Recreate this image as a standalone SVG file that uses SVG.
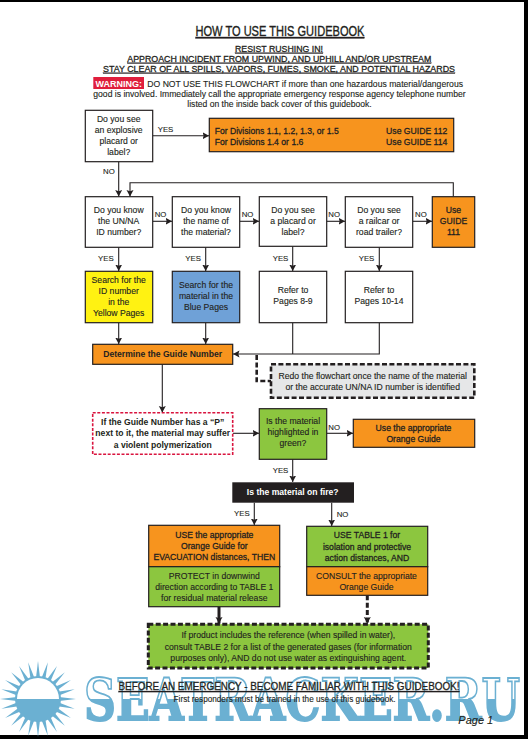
<svg xmlns="http://www.w3.org/2000/svg" width="528" height="739" viewBox="0 0 528 739">
<style>
text{font-family:"Liberation Sans",Arial,sans-serif;font-size:8.65px;fill:#231f20;stroke:#231f20;stroke-width:.12px;text-anchor:middle}
.b{font-weight:bold;font-size:8.6px;stroke:none}
.s{font-size:7.8px;text-anchor:start}
.u{text-decoration:underline;stroke-width:.28px}
.l{text-anchor:start}
.e{text-anchor:end}
.m{stroke-width:.28px}
.box{stroke:#231f20;stroke-width:1.2;fill:#fff}
.o{fill:#f7941e}.g{fill:#8cc63f}.y{fill:#fff212}.bl{fill:#6fa1d7}
.c{fill:none;stroke:#231f20;stroke-width:1.1}
.a{marker-end:url(#ah)}
.d{fill:none;stroke:#231f20;stroke-width:2.6;stroke-dasharray:5 2.4}
.t{fill:none;stroke:#231f20;stroke-width:3}
.ray{fill:#6bb0d2}
</style>
<defs>
<marker id="ah" markerUnits="userSpaceOnUse" markerWidth="8" markerHeight="8" refX="6.5" refY="3.5" orient="auto"><path d="M0 0L6.5 3.5L0 7L1.2 3.5Z" fill="#231f20"/></marker>
<linearGradient id="wm" gradientUnits="userSpaceOnUse" x1="0" y1="-14.6" x2="0" y2="-13.6"><stop offset="0" stop-color="#fff"/><stop offset="0" stop-color="#6bb0d2"/></linearGradient>
<polygon id="ray" class="ray" points="33.5,699 38,661 42.5,699"/>
</defs>
<g id="frame"><rect x="0" y="0" width="528" height="2" fill="#000"/><rect x="524" y="0" width="4" height="739" fill="#000"/><rect x="0" y="735" width="528" height="4" fill="#000"/></g>
<g id="watermark">
<g>
<use href="#ray"/><use href="#ray" transform="rotate(15 38 699)"/><use href="#ray" transform="rotate(30 38 699)"/><use href="#ray" transform="rotate(45 38 699)"/><use href="#ray" transform="rotate(60 38 699)"/><use href="#ray" transform="rotate(75 38 699)"/><use href="#ray" transform="rotate(90 38 699)"/><use href="#ray" transform="rotate(105 38 699)"/><use href="#ray" transform="rotate(120 38 699)"/><use href="#ray" transform="rotate(135 38 699)"/><use href="#ray" transform="rotate(150 38 699)"/><use href="#ray" transform="rotate(165 38 699)"/><use href="#ray" transform="rotate(180 38 699)"/><use href="#ray" transform="rotate(195 38 699)"/><use href="#ray" transform="rotate(210 38 699)"/><use href="#ray" transform="rotate(225 38 699)"/><use href="#ray" transform="rotate(240 38 699)"/><use href="#ray" transform="rotate(255 38 699)"/><use href="#ray" transform="rotate(270 38 699)"/><use href="#ray" transform="rotate(285 38 699)"/><use href="#ray" transform="rotate(300 38 699)"/><use href="#ray" transform="rotate(315 38 699)"/><use href="#ray" transform="rotate(330 38 699)"/><use href="#ray" transform="rotate(345 38 699)"/>
<circle cx="38" cy="699" r="23" class="ray"/>
<path d="M17 699A21 21 0 0 1 59 699Z" fill="#fff"/>
</g>
<text transform="translate(84 720) scale(1.09 1.44)" x="0" y="0" textLength="400" lengthAdjust="spacingAndGlyphs" style="font-family:'DejaVu Serif',serif;font-weight:bold;font-size:40px;text-anchor:start;fill:url(#wm);stroke:#6bb0d2;stroke-width:1.3px">SEATRACKER.RU</text>
</g>
<g id="header">
<text x="280" y="36" class="u" style="font-size:14px;stroke-width:.35px" textLength="169" lengthAdjust="spacingAndGlyphs">HOW TO USE THIS GUIDEBOOK</text>
<text x="279" y="51.7" class="u" textLength="88" lengthAdjust="spacingAndGlyphs">RESIST RUSHING IN!</text>
<text x="279.3" y="61.7" class="u" textLength="304" lengthAdjust="spacingAndGlyphs">APPROACH INCIDENT FROM UPWIND, AND UPHILL AND/OR UPSTREAM</text>
<text x="279" y="71.7" class="u" textLength="352" lengthAdjust="spacingAndGlyphs">STAY CLEAR OF ALL SPILLS, VAPORS, FUMES, SMOKE, AND POTENTIAL HAZARDS</text>
<rect x="93.3" y="77" width="50.7" height="12" fill="#e01e3c"/>
<text x="118.7" y="87" class="b" style="fill:#fff;font-size:9.5px" textLength="46.5" lengthAdjust="spacingAndGlyphs">WARNING:</text>
<text x="147.3" y="87" class="l" textLength="315.7" lengthAdjust="spacingAndGlyphs">DO NOT USE THIS FLOWCHART if more than one hazardous material/dangerous</text>
<text x="279.5" y="97" textLength="372.4" lengthAdjust="spacingAndGlyphs">good is involved. Immediately call the appropriate emergency response agency telephone number</text>
<text x="279.5" y="107" textLength="184.4" lengthAdjust="spacingAndGlyphs">listed on the inside back cover of this guidebook.</text>
</g>
<g id="connectors">
<path class="c a" d="M152.7 135.7H209"/>
<path class="c a" d="M118.7 161.7V196.5"/>
<path class="c a" d="M453.3 196.7V182.7H130V196.5"/>
<path class="c a" d="M152.7 221.3H172"/>
<path class="c a" d="M239.7 221.3H259"/>
<path class="c a" d="M326.7 221.3H345"/>
<path class="c a" d="M412.7 221.3H432"/>
<path class="c a" d="M118.7 247.3V271"/>
<path class="c a" d="M205.7 247.3V271"/>
<path class="c a" d="M292.7 246.3V271"/>
<path class="c a" d="M379.3 247.3V271"/>
<path class="c a" d="M118.7 322.7V344"/>
<path class="c a" d="M205.7 322.7V344"/>
<path class="c a" d="M379.3 322.7V354H233"/>
<path class="c" d="M292.7 322.7V354"/>
<path class="d" d="M256.7 355V381H271"/>
<path class="c a" d="M162.3 364.3V412.5"/>
<path class="c a" d="M232.7 433.3H259"/>
<path class="c a" d="M326.7 433.3H353"/>
<path class="c a" d="M292.7 459.3V482"/>
<path class="c a" d="M254.3 502.7V525"/>
<path class="c a" d="M331.7 502.7V526"/>
<path class="t a" d="M219 606.7V623.6"/>
<path class="d a" style="stroke-width:3" d="M367.3 595.3V623.6"/>
</g>
<g id="labels">
<text class="s" x="157.7" y="131.7">YES</text>
<text class="s" x="103" y="173.7">NO</text>
<text class="s" x="154.7" y="216.7">NO</text>
<text class="s" x="241.7" y="216.7">NO</text>
<text class="s" x="328.3" y="216.7">NO</text>
<text class="s" x="415" y="216.7">NO</text>
<text class="s" x="98" y="260.7">YES</text>
<text class="s" x="185.3" y="260.7">YES</text>
<text class="s" x="272.7" y="260.7">YES</text>
<text class="s" x="358.7" y="260.7">YES</text>
<text class="s" x="328.3" y="429.7">NO</text>
<text class="s" x="272.7" y="472.7">YES</text>
<text class="s" x="234" y="515.7">YES</text>
<text class="s" x="336.7" y="516.7">NO</text>
</g>
<g id="n-explosive"><rect class="box" x="85.3" y="110.3" width="67.4" height="51.4"/><text x="118.7" y="122.3">Do you see</text><text x="118.7" y="133.3">an explosive</text><text x="118.7" y="144.3">placard or</text><text x="118.7" y="155.3">label?</text></g>
<g id="n-divisions"><rect class="box o" x="209.3" y="118.3" width="244.4" height="33.4"/><text class="l m" x="214.7" y="133.5" textLength="124" lengthAdjust="spacingAndGlyphs">For Divisions 1.1, 1.2, 1.3, or 1.5</text><text class="e m" x="447.3" y="133.5">Use GUIDE 112</text><text class="l m" x="214.7" y="145.3">For Divisions 1.4 or 1.6</text><text class="e m" x="447.3" y="145.3">Use GUIDE 114</text></g>
<g id="n-unid"><rect class="box" x="85.3" y="196.7" width="67.4" height="50.6"/><text x="118.7" y="212.7">Do you know</text><text x="118.7" y="223.7">the UN/NA</text><text x="118.7" y="234.7">ID number?</text></g>
<g id="n-name"><rect class="box" x="172.3" y="196.7" width="67.4" height="50.6"/><text x="206" y="212.7">Do you know</text><text x="206" y="223.7">the name of</text><text x="206" y="234.7">the material?</text></g>
<g id="n-placard"><rect class="box" x="259.3" y="196.7" width="67.4" height="49.6"/><text x="293" y="212.7">Do you see</text><text x="293" y="223.7">a placard or</text><text x="293" y="234.7">label?</text></g>
<g id="n-railcar"><rect class="box" x="345.3" y="196.7" width="67.4" height="50.6"/><text x="379" y="212.7">Do you see</text><text x="379" y="223.7">a railcar or</text><text x="379" y="234.7">road trailer?</text></g>
<g id="n-guide111"><rect class="box o" x="432.3" y="196.7" width="42.4" height="50.6"/><text x="453.5" y="212.7" class="m">Use</text><text x="453.5" y="223.7" class="m">GUIDE</text><text x="453.5" y="234.7" class="m">111</text></g>
<g id="n-yellow"><rect class="box y" x="85.3" y="271.3" width="67.4" height="51.4"/><text x="118.7" y="282.7">Search for the</text><text x="118.7" y="293.7">ID number</text><text x="118.7" y="305">in the</text><text x="118.7" y="316">Yellow Pages</text></g>
<g id="n-blue"><rect class="box bl" x="172.3" y="271.3" width="67.4" height="51.4"/><text x="206" y="288.4">Search for the</text><text x="206" y="299.4">material in the</text><text x="206" y="310.4">Blue Pages</text></g>
<g id="n-p8"><rect class="box" x="259.3" y="271.3" width="67.4" height="51.4"/><text x="293" y="293.4">Refer to</text><text x="293" y="304.4">Pages 8-9</text></g>
<g id="n-p10"><rect class="box" x="345.3" y="271.3" width="67.4" height="51.4"/><text x="379" y="293.4">Refer to</text><text x="379" y="304.4">Pages 10-14</text></g>
<g id="n-determine"><rect class="box o" x="92.7" y="344.3" width="140" height="20"/><text class="b" x="162.7" y="356.9">Determine the Guide Number</text></g>
<g id="n-redo"><rect x="271" y="364.3" width="203.3" height="33.4" class="d" style="fill:#e6e7e8"/><text x="372.7" y="378.7">Redo the flowchart once the name of the material</text><text x="372.7" y="390">or the accurate UN/NA ID number is identified</text></g>
<g id="n-p"><rect x="92.7" y="412.7" width="140" height="41.6" fill="#fff" stroke="#d9143f" stroke-width="1.6" stroke-dasharray="3 1.6"/><text class="b" x="162.7" y="425">If the Guide Number has a “P”</text><text class="b" x="162.7" y="436.3">next to it, the material may suffer</text><text class="b" x="162.7" y="447.7">a violent polymerization</text></g>
<g id="n-green"><rect class="box g" x="259.3" y="408.7" width="67.4" height="50.6"/><text x="293" y="424.3">Is the material</text><text x="293" y="435.3">highlighted in</text><text x="293" y="446.3">green?</text></g>
<g id="n-orangeguide"><rect class="box o" x="353.3" y="419.3" width="121.4" height="28"/><text x="413.5" y="430.7" class="m">Use the appropriate</text><text x="413.5" y="441.7" class="m">Orange Guide</text></g>
<g id="n-fire"><rect x="232.3" y="482.3" width="121.7" height="20.4" fill="#231f20"/><text class="b" x="292.7" y="495" style="fill:#fff">Is the material on fire?</text></g>
<g id="n-evac"><rect class="box o" x="148.7" y="525.3" width="131" height="41.4"/><rect class="box g" x="148.7" y="566.7" width="131" height="40"/><text x="214.3" y="537.7" class="m">USE the appropriate</text><text x="214.3" y="548.7" class="m">Orange Guide for</text><text x="214.3" y="559.7" class="m">EVACUATION distances, THEN</text><text x="214.3" y="578.7">PROTECT in downwind</text><text x="214.3" y="589.7">direction according to TABLE 1</text><text x="214.3" y="600.7">for residual material release</text></g>
<g id="n-table1"><rect class="box g" x="306.7" y="526.3" width="121" height="40.4"/><rect class="box o" x="306.7" y="566.7" width="121" height="28.6"/><text x="367" y="538.3" class="m">USE TABLE 1 for</text><text x="367" y="549.7" class="m">isolation and protective</text><text x="367" y="560.7" class="m">action distances, AND</text><text x="366.5" y="578.7">CONSULT the appropriate</text><text x="366.5" y="589.7">Orange Guide</text></g>
<g id="n-product"><rect class="d" x="148.3" y="624.2" width="280" height="43.8" style="fill:#8cc63f;stroke-width:3"/><text x="288.3" y="638">If product includes the reference  (when spilled in water),</text><text x="288.3" y="649.5">consult TABLE 2 for a list of the generated gases (for information</text><text x="288.3" y="660.6">purposes only), AND do not use water as extinguishing agent.</text></g>
<g id="footer">
<text x="289" y="690" class="u" style="font-size:11px" textLength="341" lengthAdjust="spacingAndGlyphs">BEFORE AN EMERGENCY - BECOME FAMILIAR WITH THIS GUIDEBOOK!</text>
<text x="284.6" y="702" textLength="222" lengthAdjust="spacingAndGlyphs">First responders must be trained in the use of this guidebook.</text>
<text x="475.8" y="724" style="font-size:11px;font-style:italic">Page 1</text>
</g>
</svg>
